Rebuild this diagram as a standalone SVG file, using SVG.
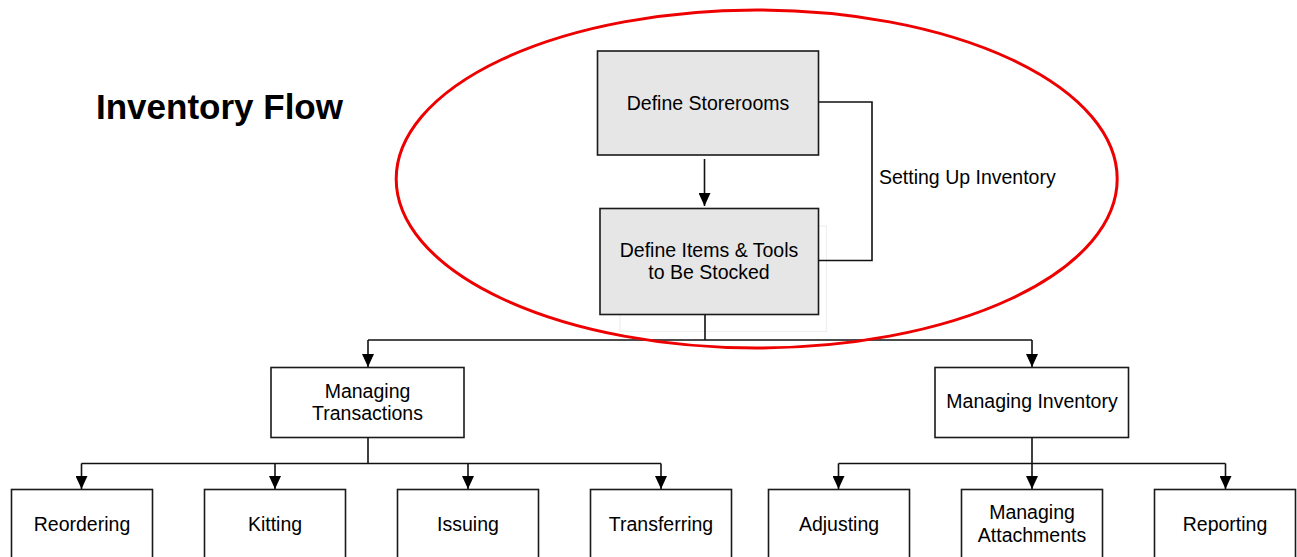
<svg xmlns="http://www.w3.org/2000/svg" width="1297" height="557" viewBox="0 0 1297 557">
  <style>
    .box { fill: #ffffff; stroke: #1a1a1a; stroke-width: 1.6; }
    .box.gray { fill: #e6e6e6; }
    .lbl { font-family: "Liberation Sans", Arial, sans-serif; font-size: 19.5px; fill: #000; text-anchor: middle; }
    .note { font-family: "Liberation Sans", Arial, sans-serif; font-size: 19.5px; fill: #000; }
    .title { font-family: "Liberation Sans", Arial, sans-serif; font-size: 35px; font-weight: bold; fill: #000; }
    .wire { fill: none; stroke: #111; stroke-width: 1.6; }
    .arr { marker-end: url(#head); }
  </style>
  <defs>
    <marker id="head" markerUnits="userSpaceOnUse" markerWidth="12" markerHeight="13" refX="6" refY="13" orient="0" viewBox="0 0 12 13">
      <path d="M0,0 L12,0 L6,13 Z" fill="#000"/>
    </marker>
  </defs>

  <rect width="1297" height="557" fill="#ffffff"/>

  <text class="title" x="96" y="119">Inventory Flow</text>

  <!-- faint outline behind the second setup step -->
  <rect x="620" y="226" width="206.5" height="105.5" fill="none" stroke="#efefef" stroke-width="1.2"/>

  <g id="connectors">
    <!-- bracket grouping the setup steps -->
    <path class="wire" d="M818.5,102 H872 V260.5 H818.5" stroke-width="2"/>
    <path class="wire arr" d="M704.5,159 V206"/>
    <path class="wire" d="M705,314.7 V340 M368,340 H1032"/>
    <path class="wire arr" d="M368,340 V367"/>
    <path class="wire arr" d="M1032,340 V367"/>
    <!-- transactions branch -->
    <path class="wire" d="M368,437.5 V463.5 M81.5,463.5 H661"/>
    <path class="wire arr" d="M81.5,463.5 V489"/>
    <path class="wire arr" d="M275,463.5 V489"/>
    <path class="wire arr" d="M468,463.5 V489"/>
    <path class="wire arr" d="M661,463.5 V489"/>
    <!-- inventory branch -->
    <path class="wire" d="M1032,437.5 V463.5 M838.5,463.5 H1225.5"/>
    <path class="wire arr" d="M838.5,463.5 V489"/>
    <path class="wire arr" d="M1032,463.5 V489"/>
    <path class="wire arr" d="M1225.5,463.5 V489"/>
  </g>

  <g id="define-storerooms">
    <rect class="box gray" x="597.5" y="51" width="221" height="104"/>
    <text class="lbl" x="708" y="109.5">Define Storerooms</text>
  </g>

  <g id="define-items">
    <rect class="box gray" x="600" y="208.5" width="218.5" height="106"/>
    <text class="lbl" x="709" y="256.5">Define Items &amp; Tools</text>
    <text class="lbl" x="709" y="279">to Be Stocked</text>
  </g>

  <g id="setting-up-label">
    <text class="note" x="879" y="183.5">Setting Up Inventory</text>
  </g>

  <g id="managing-transactions">
    <rect class="box" x="271" y="367.5" width="193" height="70"/>
    <text class="lbl" x="367.5" y="397.5">Managing</text>
    <text class="lbl" x="367.5" y="420">Transactions</text>
  </g>

  <g id="managing-inventory">
    <rect class="box" x="935" y="367.5" width="193.5" height="70"/>
    <text class="lbl" x="1032" y="408">Managing Inventory</text>
  </g>

  <g id="reordering">
    <rect class="box" x="11.5" y="489.5" width="141" height="80"/>
    <text class="lbl" x="82" y="531">Reordering</text>
  </g>
  <g id="kitting">
    <rect class="box" x="204.5" y="489.5" width="141" height="80"/>
    <text class="lbl" x="275" y="531">Kitting</text>
  </g>
  <g id="issuing">
    <rect class="box" x="397.5" y="489.5" width="141" height="80"/>
    <text class="lbl" x="468" y="531">Issuing</text>
  </g>
  <g id="transferring">
    <rect class="box" x="590.5" y="489.5" width="141" height="80"/>
    <text class="lbl" x="661" y="531">Transferring</text>
  </g>
  <g id="adjusting">
    <rect class="box" x="768.5" y="489.5" width="141" height="80"/>
    <text class="lbl" x="839" y="531">Adjusting</text>
  </g>
  <g id="managing-attachments">
    <rect class="box" x="961.5" y="489.5" width="141" height="80"/>
    <text class="lbl" x="1032" y="519">Managing</text>
    <text class="lbl" x="1032" y="542">Attachments</text>
  </g>
  <g id="reporting">
    <rect class="box" x="1154.5" y="489.5" width="141" height="80"/>
    <text class="lbl" x="1225" y="531">Reporting</text>
  </g>

  <!-- highlight around the setup phase -->
  <ellipse cx="756.7" cy="179" rx="360.5" ry="169" fill="none" stroke="#ee0000" stroke-width="3"/>
</svg>
